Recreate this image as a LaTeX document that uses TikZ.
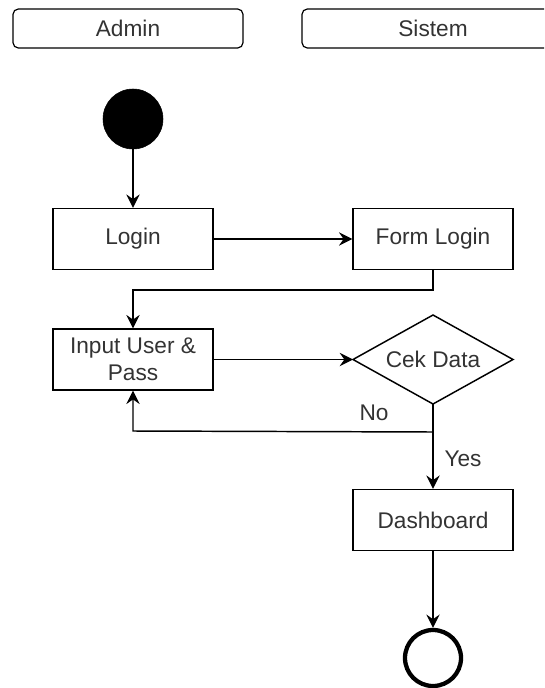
\documentclass[tikz,border=0pt]{standalone}
\usepackage{fontspec}
\setmainfont{Liberation Sans}
\usetikzlibrary{arrows.meta,shapes.geometric}
\definecolor{txt}{RGB}{51,51,51}
\tikzset{
  every node/.style={font=\fontsize{17}{19}\selectfont, text=txt},
  act/.style={draw, line width=1.1pt, minimum width=120pt, minimum height=45.75pt, inner sep=2pt, align=center},
  lane/.style={draw, line width=0.9pt, rounded corners=4pt},
  flow/.style={line width=1.1pt, -{Stealth[length=10pt, width=10pt, inset=3.5pt]}},
}
\begin{document}
\begin{tikzpicture}[x=0.75pt, y=-0.75pt]
\useasboundingbox (0,0) rectangle (544,688);
\clip (0,0) rectangle (544,688);
% lanes
\draw[lane] (13,9) rectangle (243,48);
\node (admin) at (128,28.5) {Admin};
\draw[lane] (302,9) rectangle (560,48);
\node (sistem) at (433,28.5) {Sistem};
% start
\node[circle, fill=black, draw=black, minimum size=45pt, inner sep=0pt] (start) at (133,119) {};
% activities
\node[act] (login) at (133,239) {Login};
\node[act] (form) at (433,239) {Form Login};
\node[act] (input) at (133,359.5) {Input User \&\\[1pt]Pass};
\draw[line width=1.1pt] (353,359.5) -- (433,315) -- (513,359.5) -- (433,404) -- cycle;
\node (cek) at (433,359.5) {Cek Data};
\coordinate (decL) at (353,359.5);
\coordinate (decB) at (433,404);
\node[act] (dash) at (433,520) {Dashboard};
% end
\node[circle, draw=black, line width=3.2pt, minimum size=42pt, inner sep=0pt] (end) at (433,658) {};
% connectors
\draw[flow] (start) -- (login);
\draw[flow] (login) -- (form);
\draw[flow] (form.south) |- (133,290) -- (input.north);
\draw[flow] (input) -- (decL);
\coordinate (split) at (433,432);
\draw[flow] (split) -- (133,431) -- (input.south);
\node (no) at (374,413) {No};
\draw[flow] (decB) -- (dash.north);
\node (yes) at (463,459) {Yes};
\draw[flow] (dash) -- (end);
\end{tikzpicture}
\end{document}
